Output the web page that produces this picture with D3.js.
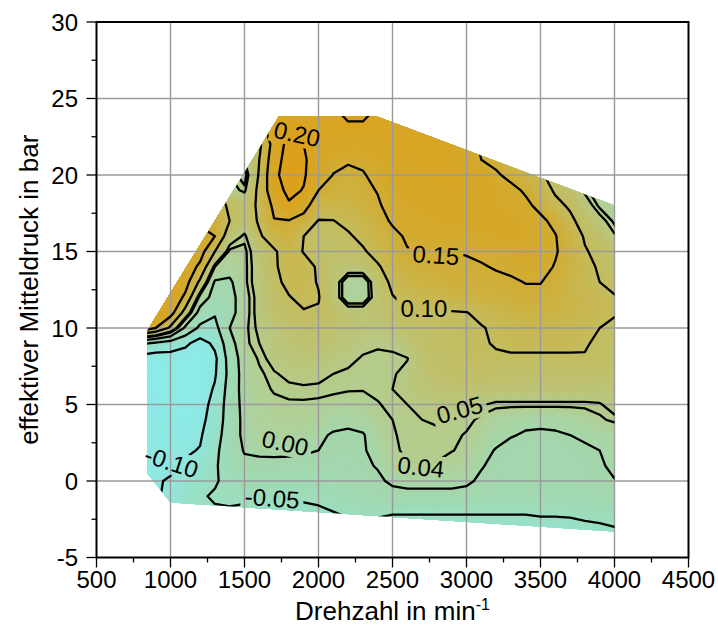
<!DOCTYPE html>
<html>
<head>
<meta charset="utf-8">
<script src="https://cdn.jsdelivr.net/npm/d3@7/dist/d3.min.js"></script>
<style>
  html,body{margin:0;padding:0;background:#ffffff;}
  svg text{font-family:"Liberation Sans",Arial,Helvetica,sans-serif;fill:#000;}
</style>
</head>
<body>
<svg id="chart" width="718" height="628" viewBox="0 0 718 628"></svg>
<script>
// ---------------- data ----------------
const rpmNodes = d3.range(800, 4001, 100);   // Drehzahl grid, min^-1
const barNodes = d3.range(-4, 25, 1);        // effektiver Mitteldruck grid, bar
// map values (in 1/100), first row = -4 bar, last row = 24 bar; columns 800..4000 min^-1
const valueRows = [
 [-12,-12,-12,-11,-9,-9,-9,-9,-9,-9,-9,  -9,-9,-9,-9,-9,-9,-9,-9,-9,-9,-9,  -9,-9,-9,-9,-9,-9,-9,-9,-9,-9,-9],
 [-12,-11,-10,-9,-8,-7.5,-7,-7,-7,-7,-7,  -7,-7,-7,-6.5,-6.5,-6.5,-7,-7,-7,-7,-7,  -7,-7,-7,-7,-7,-7,-7,-6.5,-6,-5.5,-5],
 [-12,-11,-9.5,-8,-6.5,-5.5,-5.5,-6,-6.5,-6.5,-6.5,  -6.5,-6,-5,-4,-3.5,-4,-4.5,-4.5,-4.5,-4.5,-4.5,  -4.5,-4.5,-4.5,-4.5,-4.5,-4,-4,-4,-3.5,-3.5,-3.5],
 [-11,-10.5,-9,-7,-5.5,-4.5,-4,-4,-4,-4,-4,  -4,-3.5,-3,-2.5,-2,-1.5,-1,-1,-1,-1,-1,  -1,-1.5,-2,-2,-2,-2,-2,-2,-2,-1.5,-1.5],
 [-11,-10.5,-9.5,-8.5,-7,-5.5,-3.5,-2.5,-2.5,-2.5,-2.5,  -2.5,-2.5,-2,-1.5,-1,-0.5,0.5,1,1,1,1,  0.5,-0.5,-1,-1.5,-1.5,-1.5,-1.5,-1.5,-1,-0.5,-0.1],
 [-12,-11.5,-11,-9.5,-7.5,-5.5,-3,-1,-1,-1,-1.2,  -1.2,-1.2,-1.2,-1,-0.5,0.2,2.5,3.8,4,3.8,3,  2,0.2,-0.7,-1.2,-1.5,-1.5,-1.5,-1.5,-1,-0.3,0.5],
 [-12,-12,-11.5,-10.5,-9.8,-6,-2.5,0.3,0.7,0.8,0.8,  0.5,0,-0.3,-0.5,-0.3,1,3.5,4.5,4.6,4.5,4.1,  3.5,1,-0.2,-1,-1.2,-1.2,-1.2,-1,-0.5,0,0.5],
 [-12,-12,-12,-11.5,-10.5,-7,-2.5,1,2,2.5,2.5,  2,0.5,-0.3,-0.6,-0.3,2,3.8,4.5,4.8,4.7,4.5,  3.8,2.5,1,0.2,-0.3,-0.4,-0.3,0,0.5,1,1.5],
 [-12,-12,-12.5,-12.5,-11.5,-7.5,-3,1.2,2.5,3,3,  3,2.5,1,0.8,1.5,3.5,4,4.5,5,5.2,5,  4.6,3.5,2.2,1.2,0.7,0.6,0.7,1.2,2.2,3.6,4.5],
 [-12,-12.5,-13,-13,-12.5,-8,-3,1.5,2.8,3.5,3.7,  3.7,3.5,3,2.8,3.2,3.8,4.7,5,5.8,6.2,6.2,  5.8,5.2,4.6,4.6,4.6,4.6,4.6,4.6,4.6,4.8,6],
 [-12,-12.5,-13,-13,-12.5,-9.5,-3,1.8,3.3,4.2,4.6,  4.7,4.7,4.5,4.2,4.1,4.6,5,6,6.8,7.2,7.4,  7.4,7.2,7,7,7,7,7,7,7,6.8,7],
 [-12.5,-13,-13,-13,-13,-10.5,-3.5,2,3.6,4.8,5.5,  5.8,5.5,5,4.7,4.6,4.6,4.8,5.6,7,8,8.5,  8.8,8.8,8.5,8.3,8.3,8.3,8.3,8.3,8.3,8.2,8.2],
 [-12,-12.5,-12,-12.5,-13,-11,-3,2.2,4.3,5.8,6.5,  6.8,6.5,6,5.5,4.8,4.7,4.6,4.9,7.5,8.5,9,  9.5,9.5,9.5,9.5,9.5,9.5,9.5,9.5,9.7,9.2,8.8],
 [-4,-6,-7.5,-9,-12,-9,-2,3.5,5,6.2,7,  7.5,7.5,7,6.2,5.6,5.2,5.5,6.8,8,8.8,9.3,  9.6,9.6,10.3,10.8,10.8,10.8,10.8,10.8,10.4,9.2,8.8],
 [19,15,9,-1,-6,-6.5,0,3.5,5.5,6.5,7.5,  8.2,8.2,7.8,7,6.8,6.8,7.2,8,8.8,9.2,9.5,  9.7,9.8,10.5,11.2,11.5,11.5,11.5,11.5,11,10,9.3],
 [20,20,17,8,-2,-4.5,-2,3,6,8,9,  9.7,9.7,8.5,7,7,7.5,8.8,9.7,9.7,9.7,9.7,  9.9,10.8,11.8,12.5,12.8,12.8,12.7,12.2,11.5,10.8,10.3],
 [19,20,19,14,3,-2,-2,3,6,8.5,9.8,  11,10.2,7,2,2,7,9.8,11,11.5,12,12.5,  12.8,13,13.5,14,14.2,14.2,13.5,12.5,11.5,11,10.2],
 [17,18,19,17,9,-0.5,-0.8,3.5,6.5,9,11,  11,9.8,7,2,2,7.5,11,12.5,13,13.5,14,  14,14.2,14.4,14.6,15.1,15.1,14,12.5,11,10,9.2],
 [16,17,18,18,14,4,2,3.5,6.5,9.5,11.5,  11.5,9.5,7.5,7,7,9.5,12,13.5,14,14.2,14.4,  14.5,14.8,15.2,15.6,16,16,14.8,13,11.2,9.5,8.5],
 [15,16,17,18,17,10,3.5,3.5,7,9.5,12,  9.8,8.5,8,8.5,9.5,11.5,13.5,14.8,14.9,14.9,15,  15.2,15.5,16,16.5,16.8,16.5,15.3,13.5,10.3,9,7.5],
 [15,15,15,15,17,15,7,4.5,9.5,12,13,  10,9,8.8,9.5,11,12.5,14,15.5,16,16,16.2,  16.5,16.8,17,17.2,17,16.5,15.2,12.5,9.6,8,5.3],
 [14,14,14,14,14,14,10,7.5,10.5,14.8,14.8,  13.5,9.8,9.9,11,12,13.5,15.5,16.5,16.8,17,17.2,  17.5,17.5,17.5,17.2,16.8,15.8,14,10.8,8.5,6,3.6],
 [13,13,13,13,13,13,9,8,10.7,16,19.5,  16.5,12.5,12,12.5,13.5,14.5,16.5,17,17.2,17.5,17.7,  17.8,17.7,17.2,16.5,15.8,14,11,9.5,6.5,3.6,2.5],
 [12,12,12,12,12,12,6,4.5,11.4,18.2,21,  19.8,15,14,13.8,14,15.2,16.8,17.5,17.8,18,18,  18,17.8,17.2,16,14.5,12,9.5,8,4.5,2.5,2],
 [10,10,10,10,10,10,5,3,10.5,19,22,  20.5,17,14.9,14,14.6,16.5,17.5,18,18,18,18,  18,17.5,15.5,14,12.5,10.5,8.5,6.5,4,2,2],
 [10,10,10,10,10,10,6,5,10,18,22,  20.5,18,16,15.5,16,17,17.5,18,18,18,18,  17,15,14,12.5,11,9.5,7.5,5.5,3.5,2,2],
 [12,12,12,12,12,10,8,7,9,17,21.5,  20,18.5,17.5,17.5,17.5,17.8,18,18,18,18,18,  16.5,14.5,13.5,12,10,8.5,7,5,3.5,2,2],
 [15,15,15,15,15,14,12,12,13,17.5,19.5,  19,18.5,18.5,19,19,18.5,18,18,18,18,18,  16.5,15,14,12.5,11,9.5,8,6,4.5,3,2],
 [16,16,16,16,16,16,16,16,16,18,19,  19,19,19,21,21,19,18.5,18,18,18,18,  16.5,15,14,13,12,10,8,6,4,3,2]
];
const contourLevels = [-0.10, -0.05, 0.00, 0.04, 0.05, 0.10, 0.15, 0.20];
// outline of the measured map area
const mapEdgeRpm = [842, 842, 1734, 2385, 4000, 4000, 1000];
const mapEdgeBar = [0.5, 9.8, 23.85, 23.85, 18.0, -3.3, -1.4];
const xTickValues = d3.range(500, 4501, 500);
const yTickValues = d3.range(-5, 31, 5);
const labelTexts = ["0.20", "0.15", "0.10", "0.05", "0.04", "0.00", "-0.05", "-0.10"];
const labelRpm   = [1855, 2793, 2712, 2954, 2692, 1774, 1687, 1006];
const labelBar   = [22.67, 14.76, 11.3, 4.64, 0.9, 2.47, -1.13, 1.22];
const labelAngle = [12, 4, 0, -15, 6, 12, 4, 18];
const colorStops = [-0.13, -0.10, -0.075, -0.05, -0.025, 0.0, 0.025, 0.05, 0.075, 0.10, 0.125, 0.15, 0.175, 0.20, 0.225];
const colorList = ["rgb(140,234,232)","rgb(144,230,222)","rgb(150,226,206)","rgb(156,222,192)","rgb(160,218,180)",
  "rgb(166,214,170)","rgb(174,210,156)","rgb(182,202,136)","rgb(190,194,112)","rgb(196,188,94)",
  "rgb(203,180,72)","rgb(209,172,52)","rgb(214,167,40)","rgb(219,162,30)","rgb(222,158,22)"];

// ---------------- drawing ----------------
const svg = d3.select("#chart");
svg.append("rect").attr("width", 718).attr("height", 628).attr("fill", "#fff");
const x = d3.scaleLinear().domain([500, 4500]).range([96.5, 688.5]);
const y = d3.scaleLinear().domain([-5, 30]).range([557.5, 22]);
const color = d3.scaleLinear().domain(colorStops).range(colorList).clamp(true);

const nx = rpmNodes.length, ny = barNodes.length;
const rpmStep = rpmNodes[1] - rpmNodes[0], barStep = barNodes[1] - barNodes[0];
const values = new Array(nx * ny);
valueRows.forEach((row, j) => row.forEach((v, i) => { values[j * nx + i] = v / 100; }));

function toPx(p) {
  return [x(rpmNodes[0] + (p[0] - 0.5) * rpmStep), y(barNodes[0] + (p[1] - 0.5) * barStep)];
}
function pathOf(geom) {
  return geom.coordinates.map(poly => poly.map(ring =>
    "M" + ring.map(p => toPx(p).map(v => v.toFixed(2)).join(",")).join("L") + "Z").join("")).join("");
}

const defs = svg.append("defs");
const edgePts = mapEdgeRpm.map((r, i) => [x(r), y(mapEdgeBar[i])]);
defs.append("clipPath").attr("id", "mapclip")
  .append("path").attr("d", "M" + edgePts.map(p => p.join(",")).join("L") + "Z");

const contours = d3.contours().size([nx, ny]);

// filled colour field
const fillG = svg.append("g").attr("clip-path", "url(#mapclip)");
fillG.append("path").attr("d", "M" + edgePts.map(p => p.join(",")).join("L") + "Z")
  .attr("fill", color(-0.14));
const fillThresholds = d3.range(-0.14, 0.235, 0.005);
contours.thresholds(fillThresholds)(values).forEach(c => {
  fillG.append("path").attr("d", pathOf(c)).attr("fill", color(c.value + 0.0025))
    .attr("stroke", color(c.value + 0.0025)).attr("stroke-width", 0.4);
});

// grid lines
const gridG = svg.append("g").attr("stroke", "#9a9a9a").attr("stroke-width", 1.4);
xTickValues.filter(v => v > 500 && v < 4500).forEach(v =>
  gridG.append("line").attr("x1", x(v)).attr("x2", x(v)).attr("y1", y(30)).attr("y2", y(-5)));
yTickValues.filter(v => v > -5 && v < 30).forEach(v =>
  gridG.append("line").attr("x1", x(500)).attr("x2", x(4500)).attr("y1", y(v)).attr("y2", y(v)));

// labels (texts + mask holes)
const mask = defs.append("mask").attr("id", "lblmask").attr("maskUnits", "userSpaceOnUse")
  .attr("x", 0).attr("y", 0).attr("width", 718).attr("height", 628);
mask.append("rect").attr("x", 0).attr("y", 0).attr("width", 718).attr("height", 628).attr("fill", "#fff");

const lineG = svg.append("g").attr("clip-path", "url(#mapclip)");
const lineInner = lineG.append("g").attr("mask", "url(#lblmask)");
contours.thresholds(contourLevels)(values).forEach(c => {
  lineInner.append("path").attr("d", pathOf(c)).attr("fill", "none")
    .attr("stroke", "#000").attr("stroke-width", 2.3).attr("stroke-linejoin", "round");
});

const labelG = svg.append("g");
labelTexts.forEach((t, i) => {
  const tr = `translate(${x(labelRpm[i]).toFixed(1)},${y(labelBar[i]).toFixed(1)}) rotate(${labelAngle[i]})`;
  const g = labelG.append("g").attr("transform", tr);
  const tx = g.append("text").attr("text-anchor", "middle").attr("dy", "0.35em")
    .attr("font-size", 24).text(t);
  const bb = tx.node().getBBox();
  mask.append("rect").attr("transform", tr)
    .attr("x", bb.x - 4).attr("y", bb.y + 1).attr("width", bb.width + 8).attr("height", bb.height - 2)
    .attr("fill", "#000");
});

// frame
svg.append("rect").attr("x", x(500)).attr("y", y(30)).attr("width", x(4500) - x(500))
  .attr("height", y(-5) - y(30)).attr("fill", "none").attr("stroke", "#000").attr("stroke-width", 2);

// ticks
const tickG = svg.append("g").attr("stroke", "#000").attr("stroke-width", 1.3);
d3.range(500, 4501, 250).forEach(v => {
  const major = v % 500 === 0;
  tickG.append("line").attr("x1", x(v)).attr("x2", x(v)).attr("y1", y(-5)).attr("y2", y(-5) + (major ? 10 : 5));
});
d3.range(-5, 30.1, 2.5).forEach(v => {
  const major = Math.abs(v % 5) < 1e-9;
  tickG.append("line").attr("x1", x(500) - (major ? 10 : 5)).attr("x2", x(500)).attr("y1", y(v)).attr("y2", y(v));
});

// tick labels
xTickValues.forEach(v => svg.append("text").attr("x", x(v)).attr("y", 588)
  .attr("text-anchor", "middle").attr("font-size", 24).text(v));
yTickValues.forEach(v => svg.append("text").attr("x", 78).attr("y", y(v) + 8.5)
  .attr("text-anchor", "end").attr("font-size", 24).text(v));

// axis titles
const xt = svg.append("text").attr("x", x(2500)).attr("y", 620).attr("text-anchor", "middle").attr("font-size", 26);
xt.append("tspan").text("Drehzahl in min");
xt.append("tspan").attr("dy", -10).attr("font-size", 16).text("-1");
svg.append("text").attr("transform", `translate(38,${y(12.5)}) rotate(-90)`)
  .attr("text-anchor", "middle").attr("font-size", 26).text("effektiver Mitteldruck in bar");
</script>
</body>
</html>
